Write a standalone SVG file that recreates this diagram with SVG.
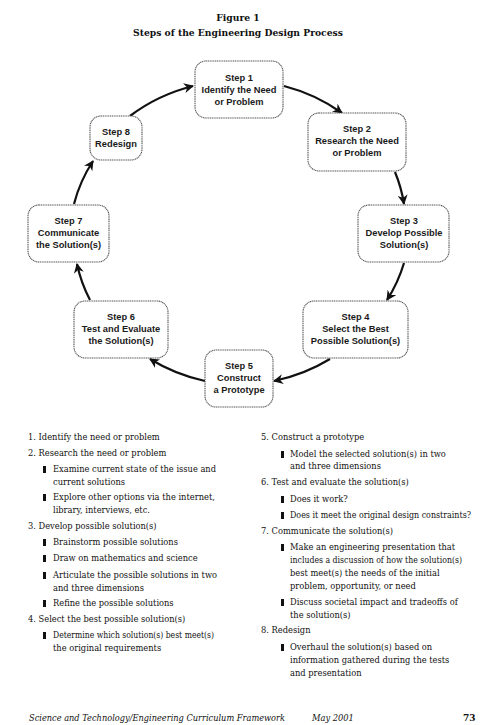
<svg xmlns="http://www.w3.org/2000/svg" width="487" height="725" viewBox="0 0 487 725">
<defs>
<style>
.bg{fill:#fff}
.node rect{fill:#fff;stroke:#555;stroke-width:1.1;stroke-dasharray:1.2 0.6}
.node text{font-family:"Liberation Sans",Arial,sans-serif;font-weight:bold;font-size:9.3px;fill:#1a1a1a;text-anchor:middle}
.title{font-family:"DejaVu Serif","Liberation Serif",serif;font-weight:bold;font-size:9.2px;fill:#111;text-anchor:middle}
.body{font-family:"DejaVu Serif","Liberation Serif",serif;font-size:8.3px;fill:#111}
.foot{font-family:"DejaVu Serif","Liberation Serif",serif;font-style:italic;font-size:8.3px;fill:#111}
.pg{font-family:"DejaVu Serif","Liberation Serif",serif;font-weight:bold;font-size:9px;fill:#111}
.conn path{fill:none;stroke:#111;stroke-width:2.2}
.bul{fill:#111}
</style>
<marker id="ah" viewBox="0 0 10 10" refX="9" refY="5" markerWidth="10" markerHeight="10" markerUnits="userSpaceOnUse" orient="auto">
<path d="M0,0 L10,5 L0,10 L3,5 z" fill="#111"/>
</marker>
</defs>
<rect class="bg" x="0" y="0" width="487" height="725"/>
<text class="title" x="238" y="21">Figure 1</text>
<text class="title" x="238" y="36">Steps of the Engineering Design Process</text>

<g id="connectors" class="conn">
<path d="M130,116 A168,152 0 0 1 193,86" marker-end="url(#ah)"/>
<path d="M284,86 A168,152 0 0 1 342,113" marker-end="url(#ah)"/>
<path d="M395,172 A168,152 0 0 1 404,204" marker-end="url(#ah)"/>
<path d="M404,263 A168,152 0 0 1 387,300" marker-end="url(#ah)"/>
<path d="M330,359 A168,152 0 0 1 274,381" marker-end="url(#ah)"/>
<path d="M205,381 A168,152 0 0 1 150,359" marker-end="url(#ah)"/>
<path d="M90,300 A168,152 0 0 1 77,264" marker-end="url(#ah)"/>
<path d="M74,204 A168,152 0 0 1 93,161" marker-end="url(#ah)"/>
</g>

<g id="step1" class="node">
<rect x="195" y="61" width="88" height="57" rx="11"/>
<text x="239" y="80.5">Step 1</text>
<text x="239" y="92.5">Identify the Need</text>
<text x="239" y="104.5">or Problem</text>
</g>
<g id="step2" class="node">
<rect x="308" y="113" width="98" height="58" rx="11"/>
<text x="357" y="131.5">Step 2</text>
<text x="357" y="143.5">Research the Need</text>
<text x="357" y="155.5">or Problem</text>
</g>
<g id="step3" class="node">
<rect x="358" y="205" width="91" height="57" rx="11"/>
<text x="404" y="224">Step 3</text>
<text x="404" y="236">Develop Possible</text>
<text x="404" y="248">Solution(s)</text>
</g>
<g id="step4" class="node">
<rect x="303" y="301" width="105" height="57" rx="11"/>
<text x="355.5" y="320">Step 4</text>
<text x="355.5" y="332">Select the Best</text>
<text x="355.5" y="344">Possible Solution(s)</text>
</g>
<g id="step5" class="node">
<rect x="205" y="350" width="68" height="57" rx="11"/>
<text x="239" y="368.5">Step 5</text>
<text x="239" y="380.5">Construct</text>
<text x="239" y="392.5">a Prototype</text>
</g>
<g id="step6" class="node">
<rect x="74" y="301" width="94" height="57" rx="11"/>
<text x="121" y="320">Step 6</text>
<text x="121" y="332">Test and Evaluate</text>
<text x="121" y="344">the Solution(s)</text>
</g>
<g id="step7" class="node">
<rect x="28" y="205" width="81" height="57" rx="11"/>
<text x="68.5" y="224">Step 7</text>
<text x="68.5" y="236">Communicate</text>
<text x="68.5" y="248">the Solution(s)</text>
</g>
<g id="step8" class="node">
<rect x="90" y="116" width="52" height="44" rx="11"/>
<text x="116" y="135">Step 8</text>
<text x="116" y="147">Redesign</text>
</g>

<g id="list-left" class="body">
<text x="28" y="440">1. Identify the need or problem</text>
<text x="28" y="456">2. Research the need or problem</text>
<rect class="bul" x="43" y="466" width="3" height="7"/>
<text x="53" y="472" textLength="163" lengthAdjust="spacingAndGlyphs">Examine current state of the issue and</text>
<text x="53" y="484.5">current solutions</text>
<rect class="bul" x="43" y="494" width="3" height="7"/>
<text x="53" y="500" textLength="162" lengthAdjust="spacingAndGlyphs">Explore other options via the internet,</text>
<text x="53" y="512.5">library, interviews, etc.</text>
<text x="28" y="529">3. Develop possible solution(s)</text>
<rect class="bul" x="43" y="539" width="3" height="7"/>
<text x="53" y="545">Brainstorm possible solutions</text>
<rect class="bul" x="43" y="555" width="3" height="7"/>
<text x="53" y="561">Draw on mathematics and science</text>
<rect class="bul" x="43" y="572" width="3" height="7"/>
<text x="53" y="578" textLength="164" lengthAdjust="spacingAndGlyphs">Articulate the possible solutions in two</text>
<text x="53" y="590.5">and three dimensions</text>
<rect class="bul" x="43" y="600" width="3" height="7"/>
<text x="53" y="606">Refine the possible solutions</text>
<text x="28" y="622">4. Select the best possible solution(s)</text>
<rect class="bul" x="43" y="632" width="3" height="7"/>
<text x="53" y="638" textLength="161" lengthAdjust="spacingAndGlyphs">Determine which solution(s) best meet(s)</text>
<text x="53" y="650.5">the original requirements</text>
</g>

<g id="list-right" class="body">
<text x="261" y="440">5. Construct a prototype</text>
<rect class="bul" x="281" y="451" width="3" height="7"/>
<text x="290" y="457">Model the selected solution(s) in two</text>
<text x="290" y="469">and three dimensions</text>
<text x="261" y="485">6. Test and evaluate the solution(s)</text>
<rect class="bul" x="281" y="496" width="3" height="7"/>
<text x="290" y="502">Does it work?</text>
<rect class="bul" x="281" y="512" width="3" height="7"/>
<text x="290" y="518" textLength="181" lengthAdjust="spacingAndGlyphs">Does it meet the original design constraints?</text>
<text x="261" y="534">7. Communicate the solution(s)</text>
<rect class="bul" x="281" y="544" width="3" height="7"/>
<text x="290" y="550">Make an engineering presentation that</text>
<text x="290" y="563" textLength="172" lengthAdjust="spacingAndGlyphs">includes a discussion of how the solution(s)</text>
<text x="290" y="576">best meet(s) the needs of the initial</text>
<text x="290" y="589">problem, opportunity, or need</text>
<rect class="bul" x="281" y="599" width="3" height="7"/>
<text x="290" y="605">Discuss societal impact and tradeoffs of</text>
<text x="290" y="617.5">the solution(s)</text>
<text x="261" y="633">8. Redesign</text>
<rect class="bul" x="281" y="644" width="3" height="7"/>
<text x="290" y="650">Overhaul the solution(s) based on</text>
<text x="290" y="663">information gathered during the tests</text>
<text x="290" y="676">and presentation</text>
</g>

<text class="foot" x="29" y="721" textLength="256" lengthAdjust="spacingAndGlyphs">Science and Technology/Engineering Curriculum Framework</text>
<text class="foot" x="312" y="721">May 2001</text>
<text class="pg" x="463" y="721">73</text>
</svg>
